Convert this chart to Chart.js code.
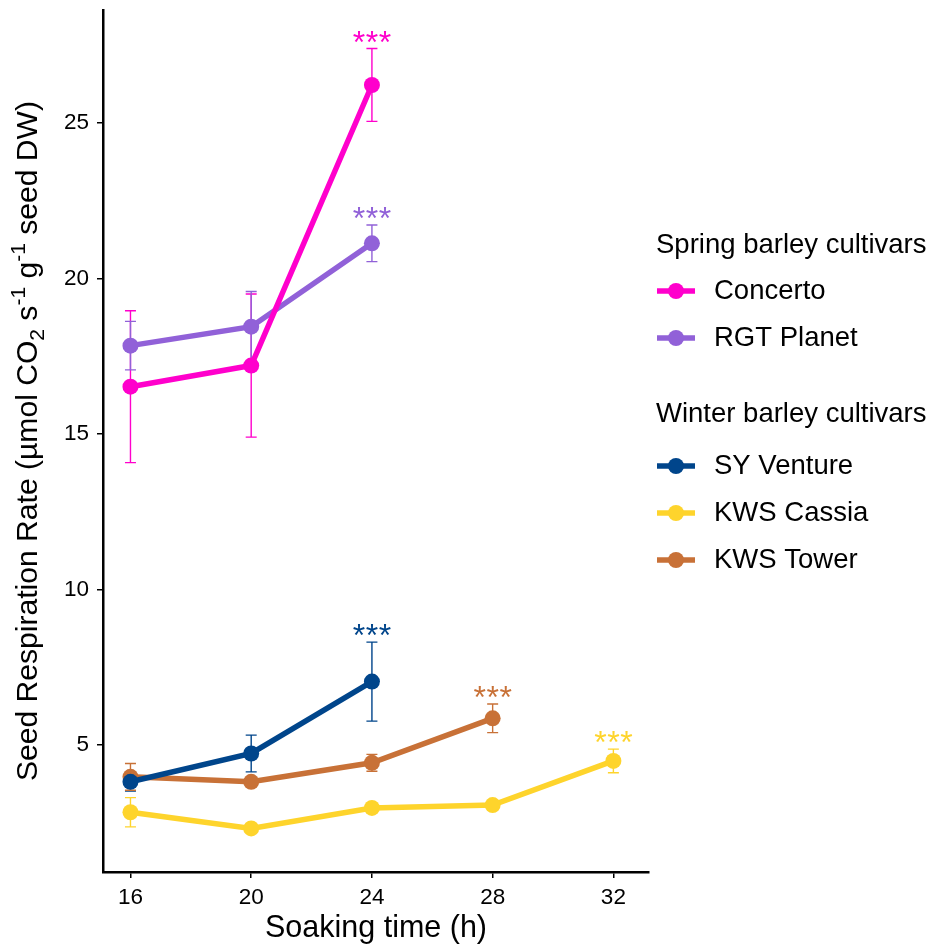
<!DOCTYPE html>
<html>
<head>
<meta charset="utf-8">
<title>Seed respiration rate</title>
<script src="https://cdn.jsdelivr.net/npm/chart.js@4.4.0/dist/chart.umd.min.js"></script>
<style>
   html, body { margin: 0; padding: 0; background: #ffffff; }
   #wrap { width: 928px; height: 947px; }
</style>
</head>
<body>
<div id="wrap"><canvas id="respChart" width="928" height="947"></canvas></div>
<script>
// soaking times (h) and tick positions
const hours = [16, 20, 24, 28, 32];
const xTicks = [16, 20, 24, 28, 32];
const yTicks = [5, 10, 15, 20, 25];

// mean respiration rate and standard error per cultivar
const concertoMean = [16.52, 17.20, 26.22];
const concertoErr = [2.44, 2.30, 1.17];
const concertoSig = ["", "", "***"];

const rgtPlanetMean = [17.84, 18.45, 21.13];
const rgtPlanetErr = [0.78, 1.13, 0.59];
const rgtPlanetSig = ["", "", "***"];

const syVentureMean = [3.82, 4.73, 7.04];
const syVentureErr = [0.30, 0.59, 1.27];
const syVentureSig = ["", "", "***"];

const kwsCassiaMean = [2.84, 2.32, 2.98, 3.07, 4.49];
const kwsCassiaErr = [0.47, 0.07, 0.07, 0.07, 0.38];
const kwsCassiaSig = ["", "", "", "", "***"];

const kwsTowerMean = [3.98, 3.82, 4.43, 5.86];
const kwsTowerErr = [0.43, 0.08, 0.27, 0.46];
const kwsTowerSig = ["", "", "", "***"];

const cultivars = ["Concerto", "RGT Planet", "SY Venture", "KWS Cassia", "KWS Tower"];
const colours = ["#ff00cc", "#9161d8", "#00458b", "#fed42c", "#c87137"];
const legendGroups = [
   { title: "Spring barley cultivars", titleY: 245, rows: [291, 338], members: [0, 1] },
   { title: "Winter barley cultivars", titleY: 414, rows: [466, 513, 560], members: [2, 3, 4] },
];

const FONT = "'Liberation Sans', Arial, Helvetica, sans-serif";

function makeDataset(index, means, errs, sig)
{
   return {
      label: cultivars[index],
      data: means.map(function(v, i) { return { x: hours[i], y: v }; }),
      errors: errs,
      sig: sig,
      borderColor: colours[index],
      backgroundColor: colours[index],
      pointBackgroundColor: colours[index],
      pointBorderWidth: 0,
      pointRadius: 8,
      pointHoverRadius: 8,
      borderWidth: 5.5,
      tension: 0,
      fill: false,
   };
}

// error bars go under the lines, stars above
const errorBarPlugin = {
   id: "errorBars",
   beforeDatasetsDraw(chart)
   {
      const ctx = chart.ctx;
      const xs = chart.scales.x;
      const ys = chart.scales.y;
      chart.data.datasets.forEach(function(ds)
      {
         ctx.save();
         ctx.strokeStyle = ds.borderColor;
         ctx.lineWidth = 1.4;
         ds.data.forEach(function(p, i)
         {
            const e = ds.errors[i];
            const px = xs.getPixelForValue(p.x);
            const top = ys.getPixelForValue(p.y + e);
            const bot = ys.getPixelForValue(p.y - e);
            ctx.beginPath();
            ctx.moveTo(px, top);
            ctx.lineTo(px, bot);
            ctx.moveTo(px - 5.5, top);
            ctx.lineTo(px + 5.5, top);
            ctx.moveTo(px - 5.5, bot);
            ctx.lineTo(px + 5.5, bot);
            ctx.stroke();
         });
         ctx.restore();
      });
   },
   afterDatasetsDraw(chart)
   {
      const ctx = chart.ctx;
      const xs = chart.scales.x;
      const ys = chart.scales.y;
      ctx.save();
      ctx.font = "32px " + FONT;
      ctx.textAlign = "center";
      ctx.textBaseline = "alphabetic";
      chart.data.datasets.forEach(function(ds)
      {
         ds.data.forEach(function(p, i)
         {
            if (!ds.sig[i]) return;
            ctx.fillStyle = ds.borderColor;
            const px = xs.getPixelForValue(p.x);
            const top = ys.getPixelForValue(p.y + ds.errors[i]);
            // spread the asterisks a little wider than the font does
            const chars = ds.sig[i].split("");
            chars.forEach(function(c, k)
            {
               ctx.fillText(c, px + (k - (chars.length - 1) / 2) * 13, top + 4);
            });
         });
      });
      ctx.restore();
   },
};

// axis titles and the grouped legend
function drawYTitle(ctx, cx, cy, length)
{
   const big = "30px " + FONT;
   const small = "21px " + FONT;
   const parts = [
      { text: "Seed Respiration Rate (\u00b5mol CO", font: big, dy: 0 },
      { text: "2", font: small, dy: 7 },
      { text: " s", font: big, dy: 0 },
      { text: "-1", font: small, dy: -12 },
      { text: " g", font: big, dy: 0 },
      { text: "-1", font: small, dy: -12 },
      { text: " seed DW)", font: big, dy: 0 },
   ];
   let total = 0;
   parts.forEach(function(p)
   {
      ctx.font = p.font;
      p.w = ctx.measureText(p.text).width;
      total += p.w;
   });
   ctx.save();
   ctx.translate(cx, cy);
   ctx.rotate(-Math.PI / 2);
   ctx.scale(length / total, 1);
   ctx.fillStyle = "#000";
   ctx.textBaseline = "alphabetic";
   ctx.textAlign = "left";
   let x = -total / 2;
   parts.forEach(function(p)
   {
      ctx.font = p.font;
      ctx.fillText(p.text, x, 10.7 + p.dy);
      x += p.w;
   });
   ctx.restore();
}

const decorPlugin = {
   id: "decor",
   afterDraw(chart)
   {
      const ctx = chart.ctx;
      const area = chart.chartArea;

      ctx.save();
      ctx.fillStyle = "#000";
      ctx.font = "30.5px " + FONT;
      ctx.textAlign = "center";
      ctx.textBaseline = "middle";
      ctx.fillText("Soaking time (h)", (area.left + area.right) / 2, 929);
      ctx.restore();

      drawYTitle(ctx, 26, (area.top + area.bottom) / 2, 680);

      ctx.save();
      ctx.textAlign = "left";
      ctx.textBaseline = "middle";
      ctx.font = "27.5px " + FONT;
      legendGroups.forEach(function(group)
      {
         ctx.fillStyle = "#000";
         ctx.fillText(group.title, 656, group.titleY);
         group.members.forEach(function(m, r)
         {
            const y = group.rows[r];
            ctx.strokeStyle = colours[m];
            ctx.lineWidth = 5.5;
            ctx.beginPath();
            ctx.moveTo(657, y);
            ctx.lineTo(695, y);
            ctx.stroke();
            ctx.fillStyle = colours[m];
            ctx.beginPath();
            ctx.arc(676, y, 8, 0, Math.PI * 2);
            ctx.fill();
            ctx.fillStyle = "#000";
            ctx.fillText(cultivars[m], 714, y);
         });
      });
      ctx.restore();
   },
};

const ctx = document.getElementById("respChart").getContext("2d");
const chart = new Chart(ctx,
{
   type: "line",
   data: {
      datasets: [
         makeDataset(0, concertoMean, concertoErr, concertoSig),
         makeDataset(1, rgtPlanetMean, rgtPlanetErr, rgtPlanetSig),
         makeDataset(2, syVentureMean, syVentureErr, syVentureSig),
         makeDataset(3, kwsCassiaMean, kwsCassiaErr, kwsCassiaSig),
         makeDataset(4, kwsTowerMean, kwsTowerErr, kwsTowerSig),
      ],
   },
   options: {
      responsive: false,
      animation: false,
      layout: { padding: { left: 0, top: 10, right: 279, bottom: 0 } },
      plugins: {
         legend: { display: false },
         tooltip: { enabled: false },
      },
      scales: {
         x: {
            type: "linear",
            min: 15.09,
            max: 33.18,
            afterBuildTicks: function(scale) { scale.ticks = xTicks.map(function(v) { return { value: v }; }); },
            afterFit: function(scale)
            {
               scale.height = 75;
               scale.paddingLeft = 0;
               scale.paddingRight = 0;
            },
            border: { display: true, color: "#000", width: 2.5 },
            grid: { display: true, drawOnChartArea: false, drawTicks: true, tickLength: 6, color: "#000", lineWidth: 1.5 },
            ticks: { color: "#000", font: { family: FONT, size: 22.5 }, padding: 6, maxRotation: 0 },
         },
         y: {
            type: "linear",
            min: 0.92,
            max: 28.63,
            afterBuildTicks: function(scale) { scale.ticks = yTicks.map(function(v) { return { value: v }; }); },
            afterFit: function(scale)
            {
               scale.width = 103;
               scale.paddingTop = 0;
               scale.paddingBottom = 0;
            },
            border: { display: true, color: "#000", width: 2.5 },
            grid: { display: true, drawOnChartArea: false, drawTicks: true, tickLength: 6, color: "#000", lineWidth: 1.5 },
            ticks: { color: "#000", font: { family: FONT, size: 22.5 }, padding: 8 },
         },
      },
   },
   plugins: [errorBarPlugin, decorPlugin],
});
</script>
</body>
</html>
